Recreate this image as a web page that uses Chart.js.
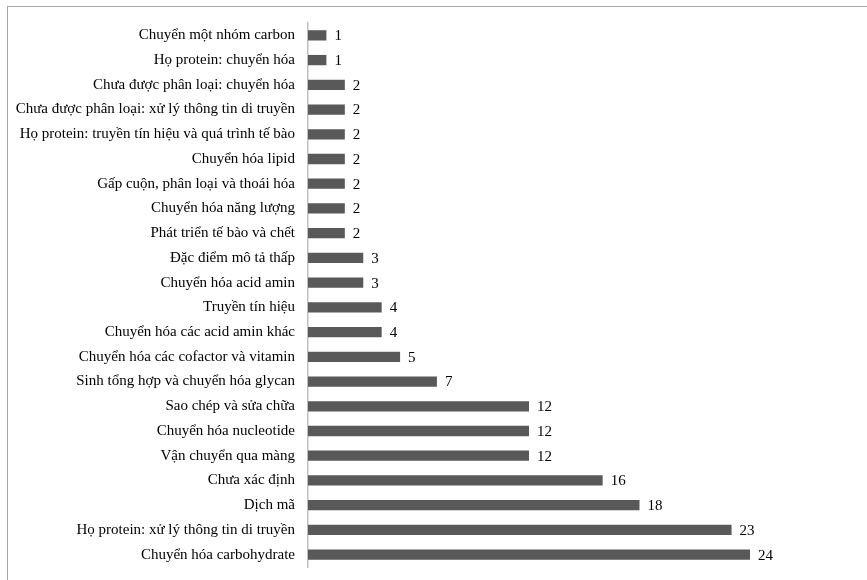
<!DOCTYPE html>
<html>
<head>
<meta charset="utf-8">
<script src="https://cdn.jsdelivr.net/npm/chart.js@4"></script>
<style>
  body { margin: 0; background: #fff; }
  #wrap { position: relative; width: 867px; height: 580px; }
  #frame { position: absolute; left: 7px; top: 6px; width: 880px; height: 600px; border: 1.5px solid #a6a6a6; box-sizing: border-box; }
  canvas { position: absolute; left: 0; top: 0; }
</style>
</head>
<body>
<div id="wrap">
  <div id="frame"></div>
  <canvas id="c" width="867" height="580"></canvas>
</div>
<script>
const categories = [
  'Chuyển một nhóm carbon',
  'Họ protein: chuyển hóa',
  'Chưa được phân loại: chuyển hóa',
  'Chưa được phân loại: xử lý thông tin di truyền',
  'Họ protein: truyền tín hiệu và quá trình tế bào',
  'Chuyển hóa lipid',
  'Gấp cuộn, phân loại và thoái hóa',
  'Chuyển hóa năng lượng',
  'Phát triển tế bào và chết',
  'Đặc điểm mô tả thấp',
  'Chuyển hóa acid amin',
  'Truyền tín hiệu',
  'Chuyển hóa các acid amin khác',
  'Chuyển hóa các cofactor và vitamin',
  'Sinh tổng hợp và chuyển hóa glycan',
  'Sao chép và sửa chữa',
  'Chuyển hóa nucleotide',
  'Vận chuyển qua màng',
  'Chưa xác định',
  'Dịch mã',
  'Họ protein: xử lý thông tin di truyền',
  'Chuyển hóa carbohydrate'
];
const counts = [1, 1, 2, 2, 2, 2, 2, 2, 2, 3, 3, 4, 4, 5, 7, 12, 12, 12, 16, 18, 23, 24];

const serif = '"Liberation Serif", "Times New Roman", serif';

// value labels right of each bar
const valueLabels = {
  id: 'valueLabels',
  afterDatasetsDraw(chart) {
    const ctx = chart.ctx;
    const meta = chart.getDatasetMeta(0);
    ctx.save();
    ctx.font = '15px ' + serif;
    ctx.fillStyle = '#000';
    ctx.textBaseline = 'middle';
    meta.data.forEach((bar, i) => {
      ctx.fillText(String(counts[i]), bar.x + 8, bar.y + 1);
    });
    ctx.restore();
  }
};

new Chart(document.getElementById('c'), {
  type: 'bar',
  data: {
    labels: categories,
    datasets: [{
      data: counts,
      backgroundColor: '#595959',
      borderWidth: 0,
      categoryPercentage: 0.8,
      barPercentage: 0.52
    }]
  },
  options: {
    indexAxis: 'y',
    responsive: false,
    animation: false,
    layout: { padding: { left: 0, right: 117, top: 23, bottom: 13 } },
    plugins: { legend: { display: false }, tooltip: { enabled: false } },
    scales: {
      x: {
        min: 0, max: 24,
        display: false
      },
      y: {
        afterFit(scale) {
          scale.width = 308;
          // drop the label half-height padding so the layout padding rules
          scale.paddingTop = 0;
          scale.paddingBottom = 0;
        },
        grid: { display: false, drawTicks: false },
        border: { display: true, color: '#bfbfbf', width: 1.5 },
        ticks: {
          color: '#000',
          padding: 13,
          autoSkip: false,
          font: { family: serif, size: 15 }
        }
      }
    }
  },
  plugins: [valueLabels]
});
</script>
</body>
</html>
